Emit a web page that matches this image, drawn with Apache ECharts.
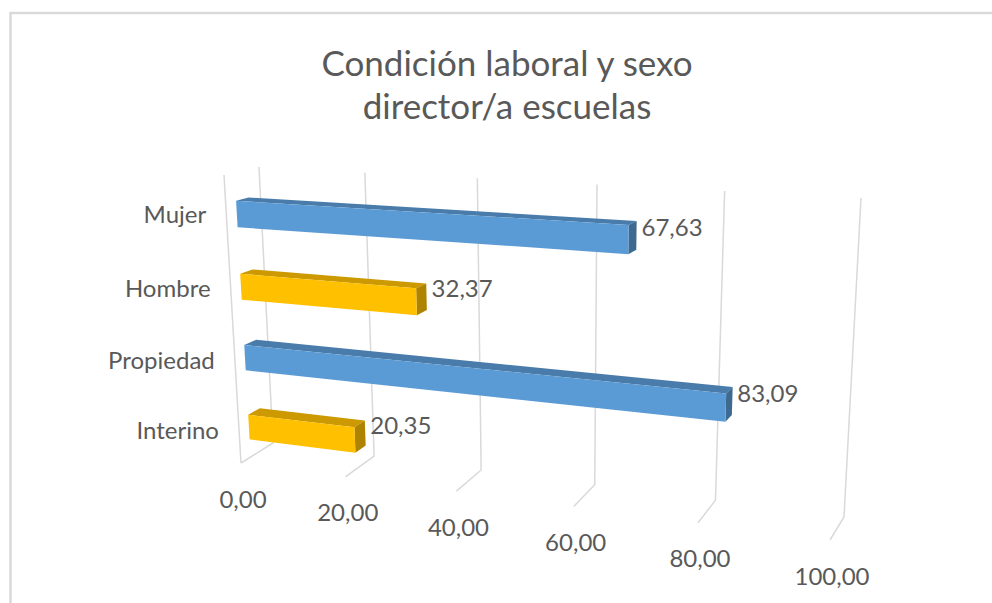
<!DOCTYPE html>
<html>
<head>
<meta charset="utf-8">
<title>Condición laboral y sexo director/a escuelas</title>
<script src="https://cdn.jsdelivr.net/npm/echarts@6/dist/echarts.min.js"></script>
<style>
  html, body { margin: 0; padding: 0; background: #fff; }
  #chart { width: 992px; height: 603px; }
</style>
</head>
<body>
<div id="chart"></div>
<script>
// datos
var categories = ['Mujer', 'Hombre', 'Propiedad', 'Interino'];
var values = [67.63, 32.37, 83.09, 20.35];
var barColors = ['#5b9bd5', '#ffc000', '#5b9bd5', '#ffc000'];
var ticks = [0, 20, 40, 60, 80, 100];

var FONT = 'Lato, "Open Sans", sans-serif';
var TEXT = '#595959';
var GRID = '#d9d9d9';

// caja 3D: pared del fondo y plano frontal (esquinas en pantalla)
// orden: (0,0) (1,0) (1,1) (0,1)  -> u = valor/100, h = altura
var backQuad = [[273, 443], [844, 517], [861, 198], [259, 167]];
var frontQuad = [[241, 463], [830, 540], [844, 209], [224, 175]];
var barDepth = [0.30, 0.66];

function squareToQuad(q) {
  var x0 = q[0][0], y0 = q[0][1], x1 = q[1][0], y1 = q[1][1];
  var x2 = q[2][0], y2 = q[2][1], x3 = q[3][0], y3 = q[3][1];
  var dx1 = x1 - x2, dx2 = x3 - x2, dy1 = y1 - y2, dy2 = y3 - y2;
  var sx = x0 - x1 + x2 - x3, sy = y0 - y1 + y2 - y3;
  var den = dx1 * dy2 - dx2 * dy1;
  var g = (sx * dy2 - dx2 * sy) / den;
  var h = (dx1 * sy - sx * dy1) / den;
  var a = x1 - x0 + g * x1, b = x3 - x0 + h * x3, c = x0;
  var d = y1 - y0 + g * y1, e = y3 - y0 + h * y3, f = y0;
  return function (u, v) {
    var w = g * u + h * v + 1;
    return [(a * u + b * v + c) / w, (d * u + e * v + f) / w];
  };
}
var frontMap = squareToQuad(frontQuad);
var backMap = squareToQuad(backQuad);

function project(u, h, d) {
  var f = frontMap(u, h), b = backMap(u, h);
  return [f[0] + (b[0] - f[0]) * d, f[1] + (b[1] - f[1]) * d];
}

function darken(color, k) {
  var c = echarts.color.parse(color);
  return 'rgb(' + Math.round(c[0] * k) + ',' + Math.round(c[1] * k) + ',' + Math.round(c[2] * k) + ')';
}

function fmt(v) {
  return v.toFixed(2).replace('.', ',');
}

function renderGrid(params, api) {
  var cs = params.coordSys;
  var t = api.value(0);
  var u = (api.coord([t, 0])[0] - cs.x) / cs.width;
  var top = project(u, 1, 1), bottom = project(u, 0, 1), front = project(u, 0, 0);
  var children = [{
    type: 'polyline',
    shape: { points: [top, bottom, front] },
    style: { stroke: GRID, lineWidth: 1.5, fill: null }
  }, {
    type: 'text',
    x: front[0] + 2,
    y: front[1] + 35,
    style: {
      text: fmt(t), fill: TEXT, font: '24px ' + FONT,
      textAlign: 'center', textVerticalAlign: 'middle'
    }
  }];
  if (params.dataIndex === 0) {
    children.push({
      type: 'polyline',
      shape: { points: [project(0, 0, 0), project(0, 1, 0)] },
      style: { stroke: GRID, lineWidth: 1.5, fill: null }
    });
  }
  return { type: 'group', children: children };
}

function renderBar(params, api) {
  var cs = params.coordSys;
  var idx = api.value(1);
  var start = api.coord([0, idx]);
  var end = api.coord([api.value(0), idx]);
  var band = api.size([0, 1])[1];
  var u0 = (start[0] - cs.x) / cs.width;
  var u1 = (end[0] - cs.x) / cs.width;
  var hc = 1 - (start[1] - cs.y) / cs.height - 0.015;
  var half = band * 0.18 / cs.height;
  var h1 = hc - half, h2 = hc + half;
  var d1 = barDepth[0], d2 = barDepth[1];
  var color = barColors[params.dataIndex];
  var topColor = darken(color, 0.8);
  var sideColor = darken(color, 0.68);

  var front = [project(u0, h1, d1), project(u1, h1, d1), project(u1, h2, d1), project(u0, h2, d1)];
  var top = [project(u0, h2, d1), project(u1, h2, d1), project(u1, h2, d2), project(u0, h2, d2)];
  var side = [project(u1, h1, d1), project(u1, h2, d1), project(u1, h2, d2), project(u1, h1, d2)];
  var labelPos = project(u1, hc, d2);
  var catPos = project(0, hc + 0.015, 0);

  return {
    type: 'group',
    children: [
      { type: 'polygon', shape: { points: top }, style: { fill: topColor } },
      { type: 'polygon', shape: { points: side }, style: { fill: sideColor } },
      { type: 'polygon', shape: { points: front }, style: { fill: color } },
      {
        type: 'text', x: labelPos[0] + 5, y: labelPos[1] - 9,
        style: {
          text: fmt(api.value(0)), fill: TEXT, font: '24px ' + FONT,
          textAlign: 'left', textVerticalAlign: 'middle'
        }
      },
      {
        type: 'text', x: catPos[0] - 20, y: catPos[1] + 1,
        style: {
          text: categories[idx], fill: TEXT, font: '24px ' + FONT,
          textAlign: 'right', textVerticalAlign: 'middle'
        }
      }
    ]
  };
}

var chart = echarts.init(document.getElementById('chart'), null, { renderer: 'svg' });

chart.setOption({
  backgroundColor: '#fff',
  animation: false,
  title: {
    text: 'Condición laboral y sexo\ndirector/a escuelas',
    left: 507,
    top: 40,
    textAlign: 'center',
    padding: 0,
    textStyle: {
      fontFamily: FONT,
      fontSize: 35,
      fontWeight: 'normal',
      color: TEXT,
      lineHeight: 43
    }
  },
  graphic: [{
    type: 'rect',
    shape: { x: 10.5, y: 13, width: 1000, height: 620 },
    style: { fill: null, stroke: GRID, lineWidth: 2.5 },
    silent: true
  }],
  grid: { left: 100, right: 100, top: 100, bottom: 100 },
  xAxis: { type: 'value', min: 0, max: 100, interval: 20, show: false },
  yAxis: { type: 'category', data: categories, inverse: true, show: false },
  series: [{
    type: 'custom',
    name: 'grid',
    renderItem: renderGrid,
    clip: false,
    silent: true,
    encode: { x: 0, y: 1 },
    data: ticks.map(function (t) { return [t, 0]; }),
    z: 1
  }, {
    type: 'custom',
    name: 'valores',
    renderItem: renderBar,
    clip: false,
    silent: true,
    encode: { x: 0, y: 1 },
    data: values.map(function (v, i) { return [v, i]; }),
    z: 2
  }]
});
</script>
</body>
</html>
